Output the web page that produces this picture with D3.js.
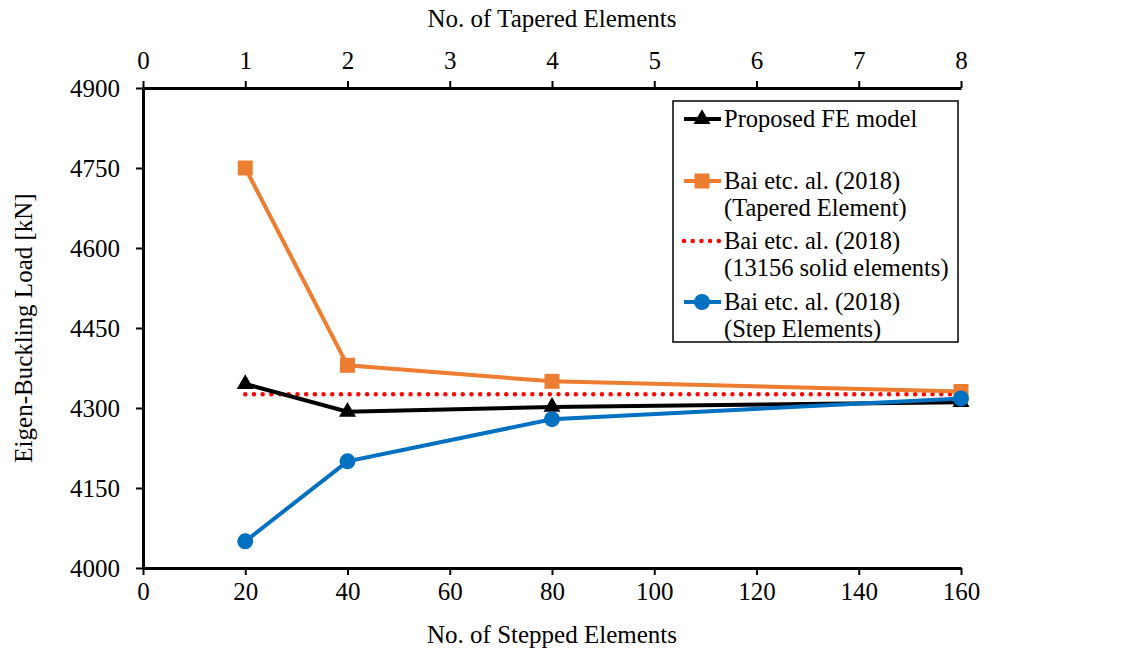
<!DOCTYPE html>
<html>
<head>
<meta charset="utf-8">
<script src="https://cdn.jsdelivr.net/npm/d3@7"></script>
<style>
  body { margin: 0; background: #fff; }
  text { font-family: "Liberation Serif", "Times New Roman", serif; }
</style>
</head>
<body>
<div id="chart"></div>
<script>
// data
const stepped = [20, 40, 80, 160];
const proposedFE = [4345, 4293, 4302, 4311];
const baiTapered = [4750, 4380, 4350, 4331];
const baiSolid = [4326, 4326, 4326, 4326];
const baiStep = [4050, 4200, 4279, 4318];
const bottomTicks = [0, 20, 40, 60, 80, 100, 120, 140, 160];
const topTicks = [0, 1, 2, 3, 4, 5, 6, 7, 8];
const yTicks = [4000, 4150, 4300, 4450, 4600, 4750, 4900];

const W = 1137, H = 652;
const margin = {top: 88, right: 176, bottom: 84, left: 143};
const width = W - margin.left - margin.right,
      height = H - margin.top - margin.bottom;

const svg = d3.select("#chart").append("svg")
    .attr("width", W).attr("height", H);
const g = svg.append("g")
    .attr("transform", `translate(${margin.left},${margin.top})`);

// scales
const x = d3.scaleLinear().domain([0, 160]).range([0, width]);
const xTop = d3.scaleLinear().domain([0, 8]).range([0, width]);
const y = d3.scaleLinear().domain([4000, 4900]).range([height, 0]);

// axes
const styleAxis = sel => {
  sel.attr("font-family", null).attr("font-size", null);
  sel.select(".domain").attr("stroke", "#000").attr("stroke-width", 3);
  sel.selectAll(".tick line").attr("stroke", "#000").attr("stroke-width", 2);
  sel.selectAll(".tick text").attr("font-size", 25).attr("fill", "#000");
};

g.append("g").attr("transform", `translate(0,${height})`)
  .call(d3.axisBottom(x).tickValues(bottomTicks).tickFormat(d3.format("d"))
    .tickSize(7).tickPadding(7).tickSizeOuter(0))
  .call(styleAxis);

g.append("g")
  .call(d3.axisTop(xTop).tickValues(topTicks).tickFormat(d3.format("d"))
    .tickSize(7).tickPadding(12).tickSizeOuter(0))
  .call(styleAxis);

g.append("g")
  .call(d3.axisLeft(y).tickValues(yTicks).tickFormat(d3.format("d"))
    .tickSize(7).tickPadding(16).tickSizeOuter(0))
  .call(styleAxis);

// axis titles
svg.append("text").attr("x", margin.left + width / 2).attr("y", 643)
  .attr("text-anchor", "middle").attr("font-size", 25).text("No. of Stepped Elements");
svg.append("text").attr("x", margin.left + width / 2).attr("y", 27)
  .attr("text-anchor", "middle").attr("font-size", 25).text("No. of Tapered Elements");
svg.append("text")
  .attr("transform", `translate(32,${margin.top + height / 2}) rotate(-90)`)
  .attr("text-anchor", "middle").attr("font-size", 25).text("Eigen-Buckling Load [kN]");

// series
const series = [
  {vals: baiSolid, color: "#ff0000", dash: "0,8.7", marker: null},
  {vals: baiTapered, color: "#ed7d31", dash: null, marker: "square"},
  {vals: proposedFE, color: "#000000", dash: null, marker: "triangle"},
  {vals: baiStep, color: "#0070c0", dash: null, marker: "circle"}
];

const line = d3.line().x(d => x(d[0])).y(d => y(d[1]));
const symType = {square: d3.symbolSquare, triangle: d3.symbolTriangle, circle: d3.symbolCircle};
const symSize = {square: 225, triangle: 125, circle: 200};

series.forEach(s => {
  const pts = stepped.map((v, i) => [v, s.vals[i]]);
  g.append("path").datum(pts)
    .attr("d", line)
    .attr("fill", "none")
    .attr("stroke", s.color)
    .attr("stroke-width", s.marker ? 4 : 4.5)
    .attr("stroke-linecap", s.dash ? "round" : "butt")
    .attr("stroke-dasharray", s.dash);
  if (s.marker) {
    g.selectAll(null).data(pts).join("path")
      .attr("transform", d => `translate(${x(d[0])},${y(d[1])})`)
      .attr("d", d3.symbol().type(symType[s.marker]).size(symSize[s.marker]))
      .attr("fill", s.color);
  }
});

// legend
const lg = svg.append("g");
lg.append("rect").attr("x", 673).attr("y", 101).attr("width", 285).attr("height", 241)
  .attr("fill", "#fff").attr("stroke", "#000").attr("stroke-width", 1.5);

const legendItems = [
  {s: series[2], lines: ["Proposed FE model"], y: 119},
  {s: series[1], lines: ["Bai etc. al. (2018)", "(Tapered Element)"], y: 181},
  {s: series[0], lines: ["Bai etc. al. (2018)", "(13156 solid elements)"], y: 241},
  {s: series[3], lines: ["Bai etc. al. (2018)", "(Step Elements)"], y: 302}
];

legendItems.forEach(it => {
  lg.append("line").attr("x1", 684).attr("x2", 721).attr("y1", it.y).attr("y2", it.y)
    .attr("stroke", it.s.color).attr("stroke-width", it.s.marker ? 4 : 4.5)
    .attr("stroke-linecap", it.s.dash ? "round" : "butt")
    .attr("stroke-dasharray", it.s.dash);
  if (it.s.marker) {
    lg.append("path").attr("transform", `translate(702,${it.y})`)
      .attr("d", d3.symbol().type(symType[it.s.marker]).size(symSize[it.s.marker]))
      .attr("fill", it.s.color);
  }
  it.lines.forEach((t, k) => {
    lg.append("text").attr("x", 724).attr("y", it.y + 8 + k * 27)
      .attr("font-size", 24.5).text(t);
  });
});
</script>
</body>
</html>
